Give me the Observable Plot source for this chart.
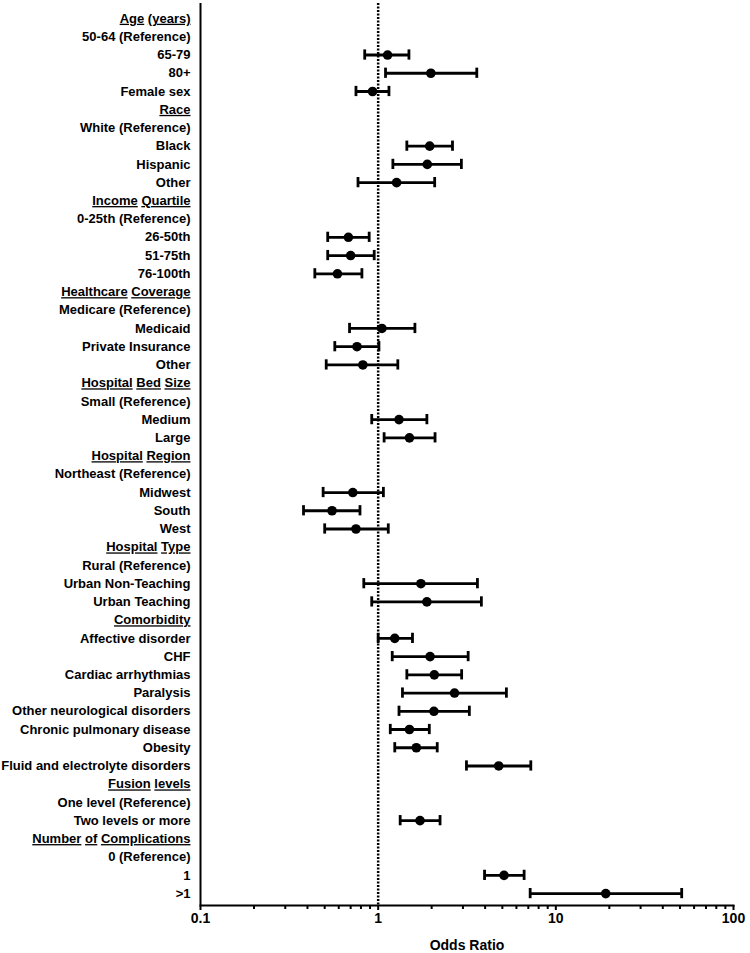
<!DOCTYPE html>
<html>
<head>
<meta charset="utf-8">
<script src="https://cdn.jsdelivr.net/npm/d3@7"></script>
<script src="https://cdn.jsdelivr.net/npm/@observablehq/plot@0.6"></script>
<style>
  body { margin: 0; background: #fff; }
  #chart svg text tspan { white-space: pre; }
</style>
</head>
<body>
<div id="chart"></div>
<script>
// Row labels, top to bottom
const labels = [
  "Age (years)", "50-64 (Reference)", "65-79", "80+", "Female sex",
  "Race", "White (Reference)", "Black", "Hispanic", "Other",
  "Income Quartile", "0-25th (Reference)", "26-50th", "51-75th", "76-100th",
  "Healthcare Coverage", "Medicare (Reference)", "Medicaid", "Private Insurance", "Other",
  "Hospital Bed Size", "Small (Reference)", "Medium", "Large",
  "Hospital Region", "Northeast (Reference)", "Midwest", "South", "West",
  "Hospital Type", "Rural (Reference)", "Urban Non-Teaching", "Urban Teaching",
  "Comorbidity", "Affective disorder", "CHF", "Cardiac arrhythmias", "Paralysis",
  "Other neurological disorders", "Chronic pulmonary disease", "Obesity", "Fluid and electrolyte disorders",
  "Fusion levels", "One level (Reference)", "Two levels or more",
  "Number of Complications", "0 (Reference)", "1", ">1"
];

// Group headers (underlined)
const headers = [
  "Age (years)", "Race", "Income Quartile", "Healthcare Coverage", "Hospital Bed Size",
  "Hospital Region", "Hospital Type", "Comorbidity", "Fusion levels", "Number of Complications"
];

// Odds ratios and 95% CI (null = header / reference row)
const oddsRatio = [
  null, null, 1.13, 1.98, 0.93,
  null, null, 1.95, 1.89, 1.27,
  null, null, 0.68, 0.70, 0.59,
  null, null, 1.05, 0.76, 0.82,
  null, null, 1.31, 1.50,
  null, null, 0.72, 0.55, 0.75,
  null, null, 1.74, 1.88,
  null, 1.24, 1.96, 2.07, 2.69,
  2.06, 1.50, 1.64, 4.77,
  null, null, 1.72,
  null, null, 5.11, 19.1
];
const lower = [
  null, null, 0.84, 1.10, 0.75,
  null, null, 1.45, 1.21, 0.77,
  null, null, 0.52, 0.52, 0.44,
  null, null, 0.69, 0.57, 0.51,
  null, null, 0.92, 1.08,
  null, null, 0.49, 0.38, 0.50,
  null, null, 0.83, 0.92,
  null, 1.00, 1.20, 1.45, 1.37,
  1.31, 1.17, 1.24, 3.14,
  null, null, 1.33,
  null, null, 3.97, 7.17
];
const upper = [
  null, null, 1.49, 3.59, 1.15,
  null, null, 2.62, 2.94, 2.08,
  null, null, 0.89, 0.95, 0.81,
  null, null, 1.61, 1.01, 1.29,
  null, null, 1.88, 2.09,
  null, null, 1.07, 0.79, 1.14,
  null, null, 3.62, 3.81,
  null, 1.56, 3.21, 2.95, 5.27,
  3.26, 1.94, 2.15, 7.23,
  null, null, 2.23,
  null, null, 6.63, 51.1
];

// X axis ticks
const majorTicks = [0.1, 1, 10, 100];
const minorTicks = [0.2, 0.3, 0.4, 0.5, 0.6, 0.7, 0.8, 0.9, 2, 3, 4, 5, 6, 7, 8, 9, 20, 30, 40, 50, 60, 70, 80, 90];

const rows = labels.map((label, i) => ({i, label, or: oddsRatio[i], lo: lower[i], hi: upper[i]}));
const est = rows.filter(d => d.or != null);

const chart = Plot.plot({
  width: 750,
  height: 953,
  marginLeft: 200,
  marginRight: 17,
  marginTop: 3,
  marginBottom: 48,
  style: {fontFamily: "'Liberation Sans', Arial, sans-serif", fontSize: "13px", color: "#000", background: "#fff"},
  x: {type: "log", domain: [0.1, 100]},
  y: {type: "band", domain: d3.range(labels.length), paddingInner: 0, paddingOuter: 0.24, align: 0.68, round: false},
  marks: [
    Plot.ruleX([1], {stroke: "#000", strokeWidth: 2.5, strokeDasharray: "2,1.5"}),
    Plot.ruleX([0.1], {stroke: "#000", strokeWidth: 2}),
    Plot.frame({anchor: "bottom", stroke: "#000", strokeWidth: 2}),
    Plot.axisY({tickSize: 0, tickPadding: 10, tickFormat: i => labels[i], label: null, fontSize: 13, fontWeight: "bold"}),
    Plot.axisX({ticks: minorTicks, tickSize: 4, tickFormat: () => "", label: null, strokeWidth: 2}),
    Plot.axisX({ticks: majorTicks, tickSize: 5, tickPadding: 3, tickFormat: d => String(d),
      label: "Odds Ratio", labelArrow: "none", labelAnchor: "center", labelOffset: 44,
      fontWeight: "bold", fontSize: 14, strokeWidth: 2}),
    Plot.ruleY(est, {y: "i", x1: "lo", x2: "hi", stroke: "#000", strokeWidth: 2.8}),
    Plot.tickX(est, {x: "lo", y: "i", insetTop: 4, insetBottom: 4, stroke: "#000", strokeWidth: 2.8}),
    Plot.tickX(est, {x: "hi", y: "i", insetTop: 4, insetBottom: 4, stroke: "#000", strokeWidth: 2.8}),
    Plot.dot(est, {x: "or", y: "i", r: 4.8, fill: "#000", stroke: null})
  ]
});

// Underline each word of the group headers separately
const ns = "http://www.w3.org/2000/svg";
const headerSet = new Set(headers);
chart.querySelectorAll("text").forEach(t => {
  const s = t.textContent;
  if (!headerSet.has(s) || t.children.length) return;
  t.textContent = "";
  s.split(" ").forEach((w, k) => {
    if (k) {
      const sp = document.createElementNS(ns, "tspan");
      sp.textContent = " ";
      t.appendChild(sp);
    }
    const ts = document.createElementNS(ns, "tspan");
    ts.textContent = w;
    ts.setAttribute("text-decoration", "underline");
    t.appendChild(ts);
  });
});

document.getElementById("chart").appendChild(chart);
</script>
</body>
</html>
